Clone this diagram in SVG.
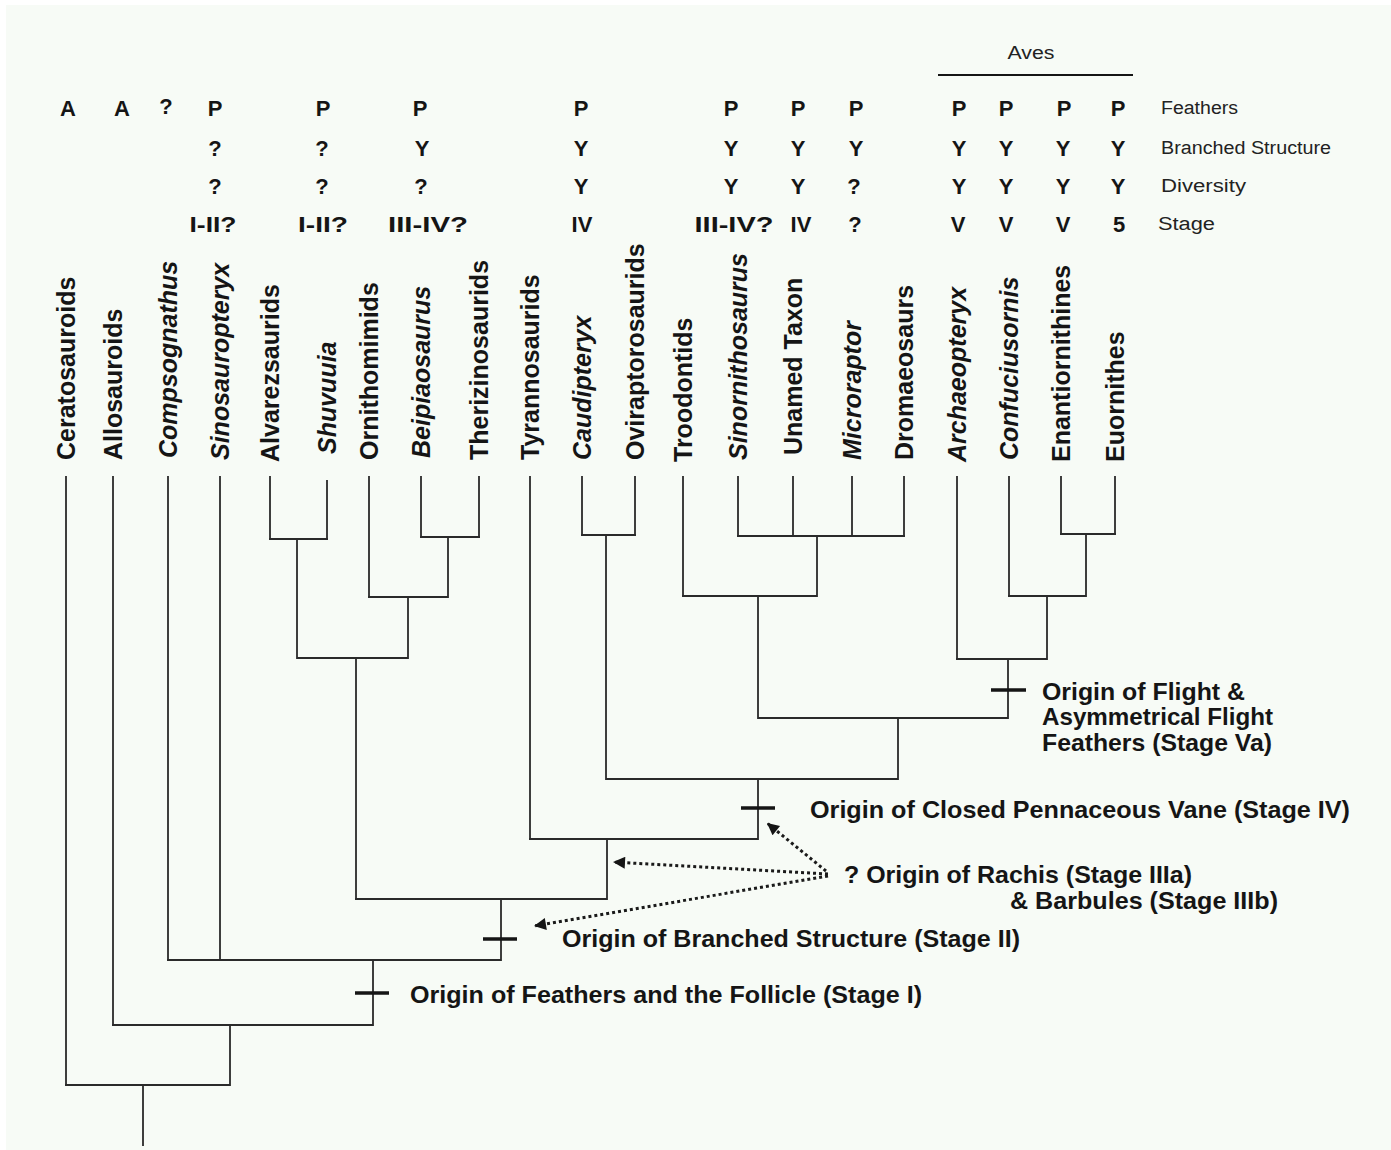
<svg xmlns="http://www.w3.org/2000/svg" width="1391" height="1150" viewBox="0 0 1391 1150">
<style>
.bg{fill:#f7fbf6}
.hd{font-family:"Liberation Sans",Arial,sans-serif;font-weight:bold;font-size:22px;fill:#151515;text-anchor:middle}
.rl{font-family:"Liberation Sans",Arial,sans-serif;font-size:18px;fill:#222}
.tx{font-family:"Liberation Sans",Arial,sans-serif;font-weight:bold;font-size:25px;fill:#151515}
.it{font-style:italic}
.an{font-family:"Liberation Sans",Arial,sans-serif;font-weight:bold;font-size:24px;fill:#151515}
.br{fill:none;stroke:#2a2a2a;stroke-width:1.8;stroke-linecap:square}
.tick{stroke:#151515;stroke-width:3.5}
.dot{fill:none;stroke:#1a1a1a;stroke-width:3;stroke-dasharray:3 3}
</style>
<defs>
<marker id="ah" viewBox="0 0 10 10" refX="10" refY="5" markerWidth="5.2" markerHeight="4" orient="auto" markerUnits="strokeWidth">
<path d="M0,0 L10,5 L0,10 z" fill="#151515"/>
</marker>
</defs>
<rect x="0" y="0" width="1391" height="1150" fill="#ffffff"/>
<rect class="bg" x="6" y="5" width="1385" height="1145"/>

<g id="aves-bracket">
<text class="rl" x="1031" y="59" text-anchor="middle" textLength="47" lengthAdjust="spacingAndGlyphs">Aves</text>
<line x1="938" y1="75" x2="1133" y2="75" stroke="#151515" stroke-width="2"/>
</g>

<g id="row-labels">
<text class="rl" x="1161" y="114" textLength="77" lengthAdjust="spacingAndGlyphs">Feathers</text>
<text class="rl" x="1161" y="154" textLength="170" lengthAdjust="spacingAndGlyphs">Branched Structure</text>
<text class="rl" x="1161" y="192" textLength="85" lengthAdjust="spacingAndGlyphs">Diversity</text>
<text class="rl" x="1158" y="230" textLength="57" lengthAdjust="spacingAndGlyphs">Stage</text>
</g>

<g id="characters">
<text class="hd" x="68" y="116">A</text>
<text class="hd" x="122" y="116">A</text>
<text class="hd" x="166" y="114">?</text>
<text class="hd" x="215" y="116">P</text>
<text class="hd" x="215" y="156">?</text>
<text class="hd" x="215" y="194">?</text>
<text class="hd" x="213" y="232" textLength="47" lengthAdjust="spacingAndGlyphs">I-II?</text>
<text class="hd" x="323" y="116">P</text>
<text class="hd" x="322" y="156">?</text>
<text class="hd" x="322" y="194">?</text>
<text class="hd" x="323" y="232" textLength="50" lengthAdjust="spacingAndGlyphs">I-II?</text>
<text class="hd" x="420" y="116">P</text>
<text class="hd" x="422" y="156">Y</text>
<text class="hd" x="421" y="194">?</text>
<text class="hd" x="428" y="232" textLength="80" lengthAdjust="spacingAndGlyphs">III-IV?</text>
<text class="hd" x="581" y="116">P</text>
<text class="hd" x="581" y="156">Y</text>
<text class="hd" x="581" y="194">Y</text>
<text class="hd" x="582" y="232">IV</text>
<text class="hd" x="731" y="116">P</text>
<text class="hd" x="731" y="156">Y</text>
<text class="hd" x="731" y="194">Y</text>
<text class="hd" x="734" y="232" textLength="79" lengthAdjust="spacingAndGlyphs">III-IV?</text>
<text class="hd" x="798" y="116">P</text>
<text class="hd" x="798" y="156">Y</text>
<text class="hd" x="798" y="194">Y</text>
<text class="hd" x="801" y="232">IV</text>
<text class="hd" x="856" y="116">P</text>
<text class="hd" x="856" y="156">Y</text>
<text class="hd" x="854" y="194">?</text>
<text class="hd" x="855" y="232">?</text>
<text class="hd" x="959" y="116">P</text>
<text class="hd" x="959" y="156">Y</text>
<text class="hd" x="959" y="194">Y</text>
<text class="hd" x="958" y="232">V</text>
<text class="hd" x="1006" y="116">P</text>
<text class="hd" x="1006" y="156">Y</text>
<text class="hd" x="1006" y="194">Y</text>
<text class="hd" x="1006" y="232">V</text>
<text class="hd" x="1064" y="116">P</text>
<text class="hd" x="1063" y="156">Y</text>
<text class="hd" x="1063" y="194">Y</text>
<text class="hd" x="1063" y="232">V</text>
<text class="hd" x="1118" y="116">P</text>
<text class="hd" x="1118" y="156">Y</text>
<text class="hd" x="1118" y="194">Y</text>
<text class="hd" x="1119" y="232">5</text>
</g>

<g id="taxon-ceratosauroids"><text class="tx" transform="translate(74.5,460) rotate(-90)">Ceratosauroids</text></g>
<g id="taxon-allosauroids"><text class="tx" transform="translate(121.5,460) rotate(-90)">Allosauroids</text></g>
<g id="taxon-compsognathus"><text class="tx it" transform="translate(176.5,458) rotate(-90)">Compsognathus</text></g>
<g id="taxon-sinosauropteryx"><text class="tx it" transform="translate(228.5,460) rotate(-90)">Sinosauropteryx</text></g>
<g id="taxon-alvarezsaurids"><text class="tx" transform="translate(278.5,462) rotate(-90)">Alvarezsaurids</text></g>
<g id="taxon-shuvuuia"><text class="tx it" transform="translate(335.5,454) rotate(-90)">Shuvuuia</text></g>
<g id="taxon-ornithomimids"><text class="tx" transform="translate(377.5,460) rotate(-90)">Ornithomimids</text></g>
<g id="taxon-beipiaosaurus"><text class="tx it" transform="translate(429.5,458) rotate(-90)">Beipiaosaurus</text></g>
<g id="taxon-therizinosaurids"><text class="tx" transform="translate(487.5,460) rotate(-90)">Therizinosaurids</text></g>
<g id="taxon-tyrannosaurids"><text class="tx" transform="translate(538.5,460) rotate(-90)">Tyrannosaurids</text></g>
<g id="taxon-caudipteryx"><text class="tx it" transform="translate(590.5,460) rotate(-90)">Caudipteryx</text></g>
<g id="taxon-oviraptorosaurids"><text class="tx" transform="translate(643.5,460) rotate(-90)">Oviraptorosaurids</text></g>
<g id="taxon-troodontids"><text class="tx" transform="translate(691.5,462) rotate(-90)">Troodontids</text></g>
<g id="taxon-sinornithosaurus"><text class="tx it" transform="translate(746.5,460) rotate(-90)">Sinornithosaurus</text></g>
<g id="taxon-unamed-taxon"><text class="tx" transform="translate(801.5,455) rotate(-90)">Unamed Taxon</text></g>
<g id="taxon-microraptor"><text class="tx it" transform="translate(860.5,460) rotate(-90)">Microraptor</text></g>
<g id="taxon-dromaeosaurs"><text class="tx" transform="translate(912.5,460) rotate(-90)">Dromaeosaurs</text></g>
<g id="taxon-archaeopteryx"><text class="tx it" transform="translate(965.5,462) rotate(-90)">Archaeopteryx</text></g>
<g id="taxon-confuciusornis"><text class="tx it" transform="translate(1017.5,460) rotate(-90)">Confuciusornis</text></g>
<g id="taxon-enantiornithines"><text class="tx" transform="translate(1069.5,462) rotate(-90)">Enantiornithines</text></g>
<g id="taxon-euornithes"><text class="tx" transform="translate(1123.5,462) rotate(-90)">Euornithes</text></g>

<g id="connectors">
<path class="br" d="M66,477 V1085 M113,477 V1025 M168,477 V960 M220,477 V960 M270,477 V539 M327,481 V539 M369,477 V597 M421,477 V537 M479,477 V537 M530,477 V839 M582,477 V535 M635,477 V535 M683,477 V596 M738,477 V536 M793,477 V536 M852,477 V536 M904,477 V536 M957,477 V659 M1009,477 V596 M1061,477 V534 M1115,477 V534"/>
<path class="br" d="M270,539 H327 M297,539 V658 M421,537 H479 M448,537 V597 M369,597 H448 M408,597 V658 M297,658 H408 M356,658 V899"/>
<path class="br" d="M582,535 H635 M606,535 V779 M606,779 H898 M738,536 H904 M817,536 V596 M683,596 H817 M758,596 V718 M1061,534 H1115 M1086,534 V596 M1009,596 H1086 M1047,596 V659 M957,659 H1047 M1008,659 V718 M758,718 H1008 M898,718 V779"/>
<path class="br" d="M758,779 V839 M530,839 H758 M607,839 V899 M356,899 H607 M501,899 V960 M168,960 H501 M373,960 V1025 M113,1025 H373 M230,1025 V1085 M66,1085 H230 M143,1085 V1145"/>
<path class="dot" d="M828,874 L613,862" marker-end="url(#ah)"/>
<path class="dot" d="M828,876 L534,926" marker-end="url(#ah)"/>
<path class="dot" d="M826,871 L767,823" marker-end="url(#ah)"/>
</g>

<g id="event-stage-i">
<line class="tick" x1="355" y1="993" x2="389" y2="993"/>
<text class="an" x="410" y="1003" textLength="512" lengthAdjust="spacingAndGlyphs">Origin of Feathers and the Follicle (Stage I)</text>
</g>
<g id="event-stage-ii">
<line class="tick" x1="483" y1="939" x2="517" y2="939"/>
<text class="an" x="562" y="947" textLength="458" lengthAdjust="spacingAndGlyphs">Origin of Branched Structure (Stage II)</text>
</g>
<g id="event-stage-iii">
<text class="an" x="844" y="883" textLength="348" lengthAdjust="spacingAndGlyphs">? Origin of Rachis (Stage IIIa)</text>
<text class="an" x="1010" y="909" textLength="268" lengthAdjust="spacingAndGlyphs">&amp; Barbules (Stage IIIb)</text>
</g>
<g id="event-stage-iv">
<line class="tick" x1="741" y1="808" x2="775" y2="808"/>
<text class="an" x="810" y="818" textLength="540" lengthAdjust="spacingAndGlyphs">Origin of Closed Pennaceous Vane (Stage IV)</text>
</g>
<g id="event-stage-va">
<line class="tick" x1="991" y1="690" x2="1026" y2="690"/>
<text class="an" x="1042" y="700" textLength="203" lengthAdjust="spacingAndGlyphs">Origin of Flight &amp;</text>
<text class="an" x="1042" y="725" textLength="231" lengthAdjust="spacingAndGlyphs">Asymmetrical Flight</text>
<text class="an" x="1042" y="751" textLength="230" lengthAdjust="spacingAndGlyphs">Feathers (Stage Va)</text>
</g>
</svg>
